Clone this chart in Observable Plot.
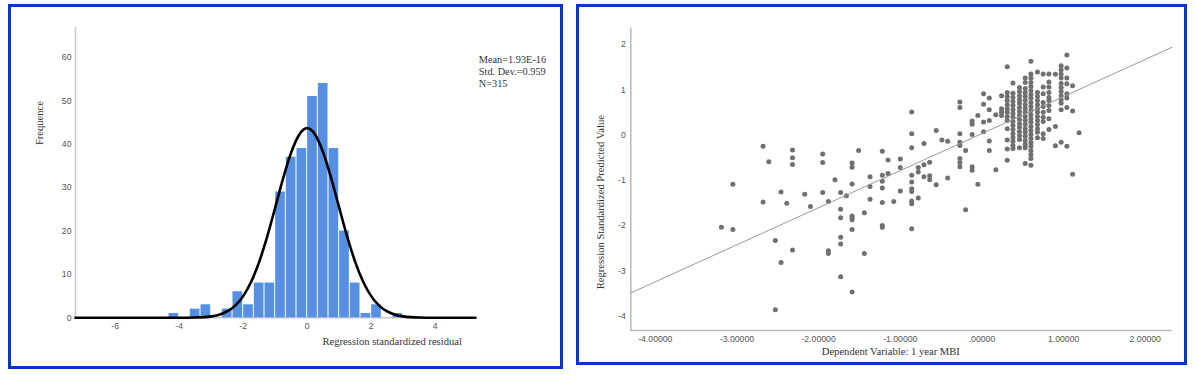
<!DOCTYPE html>
<html><head><meta charset="utf-8">
<script src="https://cdn.jsdelivr.net/npm/d3@7"></script>
<script src="https://cdn.jsdelivr.net/npm/@observablehq/plot@0.6"></script>
<style>
html,body{margin:0;padding:0;background:#fff;}
#page{position:relative;width:1196px;height:375px;overflow:hidden;background:#fff;}
.panel{position:absolute;box-sizing:border-box;border:3px solid #0536c8;background:#fff;}
.panel svg{position:absolute;left:0;top:0;max-width:none;}
</style></head><body>
<div id="page">
<div class="panel" id="p1" style="left:8px;top:4px;width:555px;height:365px"></div>
<div class="panel" id="p2" style="left:576px;top:4px;width:611px;height:361px"></div>
</div>
<script>
// ---------- Histogram data ----------
const binLo = [-4.333,-4,-3.667,-3.333,-3,-2.667,-2.333,-2,-1.667,-1.333,-1,-0.667,-0.333,0,0.333,0.667,1,1.333,1.667,2,2.333,2.667];
const binWidth = 1/3;
const binCount = [1,0,2,3,0,2,6,3,8,8,29,37,39,51,54,39,20,8,1,3,0,1];
// normal curve
const curveX = [-7.24,-4,-3.5,-3,-2.75,-2.5,-2.25,-2,-1.75,-1.5,-1.25,-1,-0.75,-0.5,-0.25,0,0.25,0.5,0.75,1,1.25,1.5,1.75,2,2.25,2.5,2.75,3,3.5,4,5.26];
const curveY = [0,0,0.06,0.33,0.72,1.46,2.8,5.0,8.3,12.9,18.7,25.4,32.2,38.1,42.2,43.7,42.2,38.1,32.2,25.4,18.7,12.9,8.3,5.0,2.8,1.46,0.72,0.33,0.06,0,0];
const histXTicks = [-6,-4,-2,0,2,4];
const histYTicks = [0,10,20,30,40,50,60];
const histXDomain = [-7.24, 5.26];
const histYDomain = [0, 66.9];
const histXLabel = "Regression standardized residual";
const histYLabel = "Frequence";
const statsLines = ["Mean=1.93E-16","Std. Dev.=0.959","N=315"];

// ---------- Scatter data ----------
const mbi = [
-3.19,-3.05,-3.05,-2.68,-2.68,-2.61,-2.53,-2.53,-2.46,-2.46,-2.39,-2.32,-2.32,-2.32,-2.32,-2.17,-2.10,
-1.95,-1.95,-1.95,-1.88,-1.88,-1.88,-1.80,-1.73,-1.73,-1.73,-1.73,-1.73,-1.73,-1.66,
-1.59,-1.59,-1.59,-1.59,-1.59,-1.59,-1.59,-1.59,-1.51,-1.44,-1.44,-1.37,-1.37,-1.37,
-1.22,-1.22,-1.22,-1.22,-1.22,-1.22,-1.22,-1.15,-1.15,-1.08,-1.00,-1.00,-1.00,
-0.86,-0.86,-0.86,-0.86,-0.86,-0.86,-0.86,-0.86,-0.86,-0.86,-0.78,-0.78,-0.78,
-0.71,-0.71,-0.71,-0.64,-0.64,-0.64,-0.56,-0.56,-0.49,-0.42,-0.42,
-0.27,-0.27,-0.27,-0.27,-0.27,-0.27,-0.27,-0.27,-0.20,-0.20,-0.12,-0.12,-0.12,-0.12,-0.12,-0.05,-0.05,
0.02,0.02,0.02,0.02,0.09,0.09,0.09,0.09,0.09,0.17,0.17,0.24,0.24,0.24,0.24,
0.31,0.31,0.31,0.31,0.31,0.31,0.31,0.31,0.31,0.31,0.31,0.31,0.31,
0.38,0.38,0.38,0.38,0.38,0.38,0.38,0.38,0.38,0.38,0.38,0.38,0.38,0.38,0.38,0.38,
0.46,0.46,0.46,0.46,0.46,0.46,0.46,0.46,0.46,0.46,0.46,0.46,0.46,0.46,0.46,
0.53,0.53,0.53,0.53,0.53,0.53,0.53,0.53,0.53,0.53,0.53,0.53,0.53,0.53,0.53,0.53,0.53,0.53,0.53,
0.60,0.60,0.60,0.60,0.60,0.60,0.60,0.60,0.60,0.60,0.60,0.60,0.60,0.60,0.60,0.60,0.60,0.60,0.60,0.60,0.60,0.60,0.60,0.60,
0.68,0.68,0.68,0.68,0.68,0.68,0.68,0.68,0.68,0.68,0.68,0.68,0.68,
0.75,0.75,0.75,0.75,0.75,0.75,0.75,0.75,0.75,0.75,
0.82,0.82,0.82,0.82,0.82,0.82,0.82,0.82,0.82,0.82,
0.90,0.90,0.90,
0.97,0.97,0.97,0.97,0.97,0.97,0.97,0.97,0.97,0.97,0.97,0.97,
1.04,1.04,1.04,1.04,1.04,1.04,1.04,1.04,
1.11,1.11,1.11,
1.19];
const predicted = [
-2.04,-1.09,-2.09,-0.25,-1.48,-0.59,-2.33,-3.86,-1.26,-2.82,-1.51,-0.33,-0.50,-0.65,-2.54,-1.31,-1.58,
-0.42,-0.61,-1.27,-1.47,-2.56,-2.62,-0.99,-1.27,-1.64,-1.83,-2.26,-2.41,-3.13,-1.34,
-0.62,-0.71,-1.08,-1.79,-1.83,-1.87,-2.09,-3.47,-0.34,-1.72,-2.62,-0.92,-1.14,-1.42,
-0.36,-0.89,-1.02,-1.17,-1.49,-2.00,-2.04,-0.55,-0.85,-1.47,-0.53,-0.72,-1.24,
0.51,0.03,-0.28,-0.89,-1.04,-1.19,-1.25,-1.46,-1.52,-2.07,-0.72,-0.82,-1.39,
-0.19,-0.66,-0.92,-0.60,-0.90,-0.99,0.10,-1.10,-0.11,-0.14,-0.95,
0.73,0.61,0.03,-0.16,-0.23,-0.52,-0.61,-0.70,-0.34,-1.65,0.31,0.24,0.01,-0.70,-0.78,0.43,-1.09,
0.91,0.68,0.29,0.07,0.82,0.56,0.32,-0.13,-0.34,0.45,-0.77,0.87,0.58,0.50,0.43,
1.51,0.94,0.85,0.76,0.67,0.58,0.50,0.41,0.32,0.14,-0.11,-0.31,-0.56,
1.15,0.92,0.83,0.74,0.65,0.56,0.47,0.39,0.30,0.21,0.12,0.03,-0.06,-0.14,-0.23,-0.30,
1.05,0.96,0.87,0.78,0.70,0.61,0.52,0.43,0.34,0.25,0.17,0.08,-0.01,-0.10,-0.28,
1.26,1.16,1.03,0.94,0.85,0.76,0.67,0.58,0.50,0.41,0.32,0.23,0.14,0.06,-0.03,-0.12,-0.21,-0.28,-0.63,
1.63,1.35,1.26,1.16,1.07,0.98,0.89,0.81,0.72,0.63,0.54,0.45,0.36,0.28,0.19,0.10,0.01,-0.08,-0.17,-0.25,-0.34,-0.43,-0.52,-0.67,
1.39,0.94,0.85,0.76,0.67,0.58,0.50,0.41,0.32,0.23,0.14,0.06,-0.06,
1.35,1.06,0.91,0.72,0.63,0.50,0.39,0.30,0.03,-0.08,
1.35,1.17,1.06,0.94,0.83,0.76,0.65,0.54,0.36,0.12,
1.34,0.19,-0.24,
1.53,1.44,1.35,1.26,1.14,1.05,0.96,0.87,0.78,0.70,0.56,-0.16,
1.77,1.48,1.26,1.13,0.91,0.82,0.61,-0.25,
1.09,0.53,-0.87,
0.05];
const fitX = [-4.3, 2.33];
const fitY = [-3.49, 1.94];
const scatXTicks = [-4,-3,-2,-1,0,1,2];
const scatYTicks = [2,1,0,-1,-2,-3,-4];
const scatXDomain = [-4.3, 2.33];
const scatYDomain = [-4.32, 2.36];
const scatXLabel = "Dependent Variable: 1 year MBI";
const scatYLabel = "Regression Standardized Predicted Value";

// ---------- styles ----------
const sans = '"Liberation Sans", Arial, Helvetica, sans-serif';
const serif = '"Liberation Serif", "Times New Roman", Times, serif';
const serifText = {fontFamily: serif, fontSize: 10.6, fill: "#333", textAnchor: "middle", lineAnchor: "middle"};

// ---------- Histogram ----------
const hist = binLo.map((lo, i) => ({x1: lo, x2: lo + binWidth, n: binCount[i]}));
const curve = curveX.map((x, i) => ({x, y: curveY[i]}));

const p1 = Plot.plot({
  width: 549, height: 359,
  marginLeft: 64, marginRight: 85, marginTop: 20, marginBottom: 48.7,
  style: {fontFamily: sans, fontSize: "8.7px", color: "#555", background: "transparent", overflow: "visible"},
  x: {domain: histXDomain},
  y: {domain: histYDomain},
  marks: [
    Plot.ruleX([histXDomain[0]], {stroke: "#c9c9c9", strokeWidth: 1.5}),
    Plot.ruleY([0], {stroke: "#c9c9c9", strokeWidth: 1.5}),
    Plot.rectY(hist, {x1: "x1", x2: "x2", y: "n", fill: "#5590e2", insetLeft: 0.5, insetRight: 0.5}),
    Plot.line(curve, {x: "x", y: "y", stroke: "#000", strokeWidth: 2.6, curve: "monotone-x"}),
    Plot.axisX({ticks: histXTicks, tickSize: 0, tickPadding: 4.6, tickFormat: d => String(d), label: null}),
    Plot.axisY({ticks: histYTicks, tickSize: 0, tickPadding: 4, tickFormat: d => String(d), label: null}),
    Plot.text([histYLabel], {...serifText, frameAnchor: "left", dx: -35.8, dy: -49.6, rotate: -90}),
    Plot.text([histXLabel], {...serifText, frameAnchor: "bottom", dx: 116.7, dy: 23.4}),
    Plot.text([statsLines.join("\n")], {fontFamily: serif, fontSize: 10.3, fill: "#333", frameAnchor: "top-right", dx: 3.3, dy: 27, textAnchor: "start", lineAnchor: "top", lineHeight: 1.17})
  ]
});
document.getElementById("p1").appendChild(p1);

// ---------- Scatter ----------
const pts = mbi.map((x, i) => ({x, y: predicted[i]}));
const fit = fitX.map((x, i) => ({x, y: fitY[i]}));
const fmtX = d => d === 0 ? ".00000" : (d < 0 ? "-" : "") + Math.abs(d).toFixed(5);
const fmtY = d => (d < 0 ? "-" : "") + Math.abs(d);

const p2 = Plot.plot({
  width: 605, height: 355,
  marginLeft: 51.3, marginRight: 12.3, marginTop: 20.7, marginBottom: 32,
  style: {fontFamily: sans, fontSize: "8.7px", color: "#555", background: "transparent", overflow: "visible"},
  x: {domain: scatXDomain},
  y: {domain: scatYDomain},
  marks: [
    Plot.ruleX([scatXDomain[0]], {stroke: "#b8b8b8", strokeWidth: 1.5}),
    Plot.ruleY([scatYDomain[0]], {stroke: "#b8b8b8", strokeWidth: 1.5}),
    Plot.dot(pts, {x: "x", y: "y", r: 2.5, fill: "#707070"}),
    Plot.line(fit, {x: "x", y: "y", stroke: "#9a9a9a", strokeWidth: 1}),
    Plot.axisX({ticks: scatXTicks, tickSize: 0, tickPadding: 5.2, tickFormat: fmtX, label: null}),
    Plot.axisY({ticks: scatYTicks, tickSize: 0, tickPadding: 5, tickFormat: fmtY, label: null}),
    Plot.text([scatYLabel], {...serifText, frameAnchor: "left", dx: -29.8, dy: 22.85, rotate: -90}),
    Plot.text([scatXLabel], {...serifText, frameAnchor: "bottom", dx: -10.7, dy: 21})
  ]
});
document.getElementById("p2").appendChild(p2);
</script>
</body></html>
